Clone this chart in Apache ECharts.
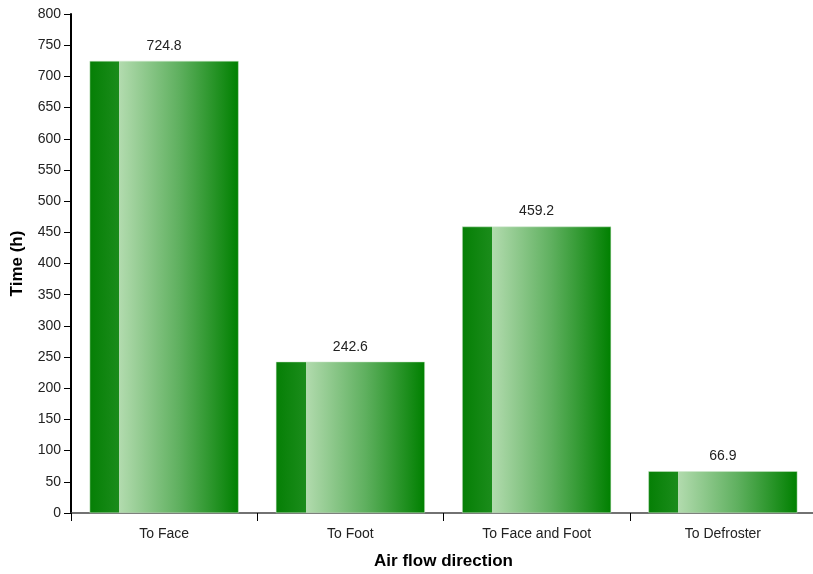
<!DOCTYPE html>
<html>
<head>
<meta charset="utf-8">
<script src="https://cdn.jsdelivr.net/npm/echarts@6/dist/echarts.min.js"></script>
<style>
  html, body { margin: 0; padding: 0; background: #fff; }
  #chart { width: 813px; height: 574px; }
</style>
</head>
<body>
<div id="chart"></div>
<script>
// data
const categories = ['To Face', 'To Foot', 'To Face and Foot', 'To Defroster'];
const hours = [724.8, 242.6, 459.2, 66.9];

const chart = echarts.init(document.getElementById('chart'));

// dark strip on the left, then light-to-dark green
const barFill = new echarts.graphic.LinearGradient(0, 0, 1, 0, [
  { offset: 0, color: '#057f05' },
  { offset: 0.2, color: '#1b8c1b' },
  { offset: 0.2001, color: '#b2dbae' },
  { offset: 0.6, color: '#5fb05f' },
  { offset: 1, color: '#008000' }
]);

const option = {
  animation: false,
  textStyle: { fontFamily: 'Liberation Sans, Arial, sans-serif' },
  grid: { left: 71, right: -3, top: 14, bottom: 61, outerBoundsMode: 'none', containLabel: false },
  xAxis: {
    type: 'category',
    data: categories,
    name: 'Air flow direction',
    nameLocation: 'middle',
    nameGap: 40,
    nameTextStyle: { fontSize: 17, fontWeight: 'bold', color: '#000' },
    axisLine: { lineStyle: { color: '#444', width: 1.5 } },
    axisTick: { show: true, alignWithLabel: false, length: 8, lineStyle: { color: '#000' } },
    axisLabel: { fontSize: 14, color: '#222', margin: 14 }
  },
  yAxis: {
    type: 'value',
    min: 0,
    max: 800,
    interval: 50,
    name: 'Time (h)',
    nameLocation: 'middle',
    nameGap: 45,
    nameTextStyle: { fontSize: 17, fontWeight: 'bold', color: '#000' },
    axisLine: { show: true, lineStyle: { color: '#000', width: 2 } },
    axisTick: { show: true, length: 7, lineStyle: { color: '#000' } },
    axisLabel: { fontSize: 14, color: '#222', margin: 10 },
    splitLine: { show: false }
  },
  series: [{
    type: 'bar',
    data: hours,
    barCategoryGap: '20%',
    itemStyle: { color: barFill, borderColor: '#cfe8cc', borderWidth: 0.5 },
    label: {
      show: true,
      position: 'top',
      distance: 8,
      fontSize: 14,
      color: '#222'
    }
  }]
};

chart.setOption(option);
window.addEventListener('resize', () => chart.resize());
</script>
</body>
</html>
